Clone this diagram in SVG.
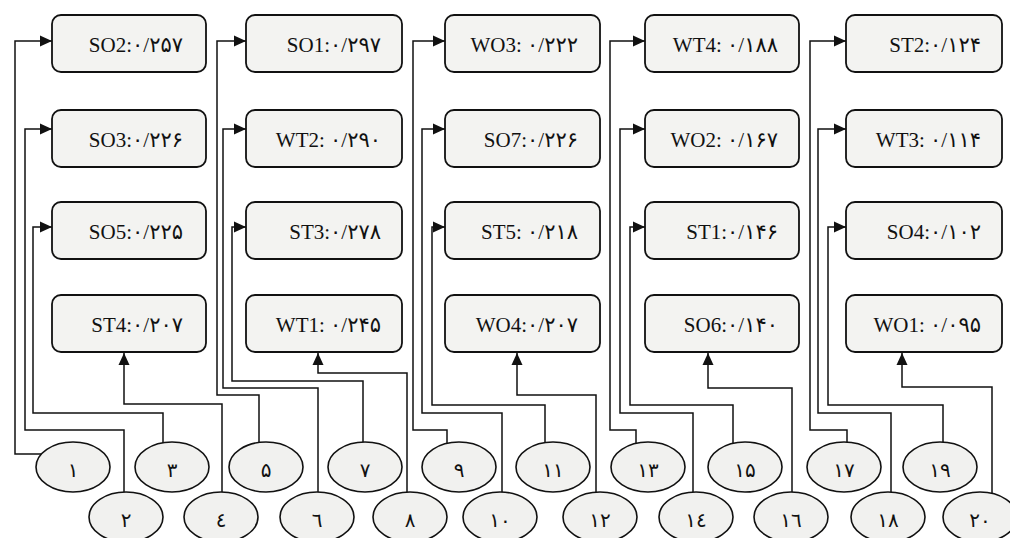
<svg xmlns="http://www.w3.org/2000/svg" width="1010" height="538" viewBox="0 0 1010 538">
<style>
.box{fill:#f3f3f1;stroke:#111;stroke-width:1.8}
.ell{fill:#f1f1ef;stroke:#111;stroke-width:1.6}
.bt{font-family:'Liberation Serif','DejaVu Sans',serif;font-size:21px;fill:#111;text-anchor:end}
.ct{font-family:'DejaVu Sans','Liberation Serif',sans-serif;font-size:20px;fill:#111;text-anchor:middle}
.ln{fill:none;stroke:#111;stroke-width:1.5}
</style>
<defs>
<marker id="ar" markerUnits="userSpaceOnUse" markerWidth="14" markerHeight="12" refX="12" refY="6" orient="auto">
<path d="M0,0.5 L12,6 L0,11.5 Z" fill="#111"/>
</marker>
</defs>
<rect width="1010" height="538" fill="#fff"/>
<g id="connectors">
<path class="ln" marker-end="url(#ar)" d="M41,454 H15 V41 H52"/>
<path class="ln" marker-end="url(#ar)" d="M124,492 V430 H25 V129 H52"/>
<path class="ln" marker-end="url(#ar)" d="M163,443 V413 H33 V227 H52"/>
<path class="ln" marker-end="url(#ar)" d="M222,492 V404 H124 V353"/>
<path class="ln" marker-end="url(#ar)" d="M259,443 V395 H217 V41 H246"/>
<path class="ln" marker-end="url(#ar)" d="M318,492 V388 H223 V129 H246"/>
<path class="ln" marker-end="url(#ar)" d="M363,443 V381 H232 V227 H246"/>
<path class="ln" marker-end="url(#ar)" d="M407,492 V373 H318 V353"/>
<path class="ln" marker-end="url(#ar)" d="M447,443 V430 H413 V41 H445"/>
<path class="ln" marker-end="url(#ar)" d="M502,492 V413 H422 V129 H445"/>
<path class="ln" marker-end="url(#ar)" d="M545,443 V405 H432 V227 H445"/>
<path class="ln" marker-end="url(#ar)" d="M596,492 V395 H517 V353"/>
<path class="ln" marker-end="url(#ar)" d="M636,443 V430 H610 V41 H645"/>
<path class="ln" marker-end="url(#ar)" d="M693,492 V413 H620 V129 H645"/>
<path class="ln" marker-end="url(#ar)" d="M733,443 V405 H630 V227 H645"/>
<path class="ln" marker-end="url(#ar)" d="M792,492 V388 H708 V353"/>
<path class="ln" marker-end="url(#ar)" d="M847,443 V430 H810 V41 H846"/>
<path class="ln" marker-end="url(#ar)" d="M891,492 V413 H818 V129 H846"/>
<path class="ln" marker-end="url(#ar)" d="M943,443 V405 H828 V227 H846"/>
<path class="ln" marker-end="url(#ar)" d="M992,493 V387 H902 V353"/>
</g>
<g id="SO2"><rect class="box" x="52" y="15" width="154" height="57" rx="9"/><text class="bt" x="183" y="52">SO2:۰/۲۵۷</text></g>
<g id="SO3"><rect class="box" x="52" y="110" width="154" height="57" rx="9"/><text class="bt" x="183" y="147">SO3:۰/۲۲۶</text></g>
<g id="SO5"><rect class="box" x="52" y="202" width="154" height="57" rx="9"/><text class="bt" x="183" y="239">SO5:۰/۲۲۵</text></g>
<g id="ST4"><rect class="box" x="52" y="295" width="154" height="57" rx="9"/><text class="bt" x="183" y="332">ST4:۰/۲۰۷</text></g>
<g id="SO1"><rect class="box" x="246" y="15" width="156" height="57" rx="9"/><text class="bt" x="381" y="52">SO1:۰/۲۹۷</text></g>
<g id="WT2"><rect class="box" x="246" y="110" width="156" height="57" rx="9"/><text class="bt" x="381" y="147">WT2: ۰/۲۹۰</text></g>
<g id="ST3"><rect class="box" x="246" y="202" width="156" height="57" rx="9"/><text class="bt" x="381" y="239">ST3:۰/۲۷۸</text></g>
<g id="WT1"><rect class="box" x="246" y="295" width="156" height="57" rx="9"/><text class="bt" x="381" y="332">WT1: ۰/۲۴۵</text></g>
<g id="WO3"><rect class="box" x="445" y="15" width="155" height="57" rx="9"/><text class="bt" x="578" y="52">WO3: ۰/۲۲۲</text></g>
<g id="SO7"><rect class="box" x="445" y="110" width="155" height="57" rx="9"/><text class="bt" x="578" y="147">SO7:۰/۲۲۶</text></g>
<g id="ST5"><rect class="box" x="445" y="202" width="155" height="57" rx="9"/><text class="bt" x="578" y="239">ST5: ۰/۲۱۸</text></g>
<g id="WO4"><rect class="box" x="445" y="295" width="155" height="57" rx="9"/><text class="bt" x="578" y="332">WO4:۰/۲۰۷</text></g>
<g id="WT4"><rect class="box" x="645" y="15" width="154" height="57" rx="9"/><text class="bt" x="778" y="52">WT4: ۰/۱۸۸</text></g>
<g id="WO2"><rect class="box" x="645" y="110" width="154" height="57" rx="9"/><text class="bt" x="778" y="147">WO2: ۰/۱۶۷</text></g>
<g id="ST1"><rect class="box" x="645" y="202" width="154" height="57" rx="9"/><text class="bt" x="778" y="239">ST1:۰/۱۴۶</text></g>
<g id="SO6"><rect class="box" x="645" y="295" width="154" height="57" rx="9"/><text class="bt" x="778" y="332">SO6:۰/۱۴۰</text></g>
<g id="ST2"><rect class="box" x="846" y="15" width="156" height="57" rx="9"/><text class="bt" x="981" y="52">ST2:۰/۱۲۴</text></g>
<g id="WT3"><rect class="box" x="846" y="110" width="156" height="57" rx="9"/><text class="bt" x="981" y="147">WT3: ۰/۱۱۴</text></g>
<g id="SO4"><rect class="box" x="846" y="202" width="156" height="57" rx="9"/><text class="bt" x="981" y="239">SO4:۰/۱۰۲</text></g>
<g id="WO1"><rect class="box" x="846" y="295" width="156" height="57" rx="9"/><text class="bt" x="981" y="332">WO1: ۰/۰۹۵</text></g>
<g id="n1"><ellipse class="ell" cx="73" cy="467" rx="37" ry="25"/><text class="ct" x="73" y="477">۱</text></g>
<g id="n2"><ellipse class="ell" cx="126" cy="517" rx="37" ry="25"/><text class="ct" x="126" y="527">۲</text></g>
<g id="n3"><ellipse class="ell" cx="172" cy="467" rx="37" ry="25"/><text class="ct" x="172" y="477">۳</text></g>
<g id="n4"><ellipse class="ell" cx="221" cy="517" rx="37" ry="25"/><text class="ct" x="221" y="527">٤</text></g>
<g id="n5"><ellipse class="ell" cx="266" cy="467" rx="37" ry="25"/><text class="ct" x="266" y="477">۵</text></g>
<g id="n6"><ellipse class="ell" cx="317" cy="517" rx="37" ry="25"/><text class="ct" x="317" y="527">٦</text></g>
<g id="n7"><ellipse class="ell" cx="365" cy="467" rx="37" ry="25"/><text class="ct" x="365" y="477">۷</text></g>
<g id="n8"><ellipse class="ell" cx="410" cy="517" rx="37" ry="25"/><text class="ct" x="410" y="527">۸</text></g>
<g id="n9"><ellipse class="ell" cx="459" cy="467" rx="37" ry="25"/><text class="ct" x="459" y="477">۹</text></g>
<g id="n10"><ellipse class="ell" cx="500" cy="517" rx="37" ry="25"/><text class="ct" x="500" y="527">۱۰</text></g>
<g id="n11"><ellipse class="ell" cx="553" cy="467" rx="37" ry="25"/><text class="ct" x="553" y="477">۱۱</text></g>
<g id="n12"><ellipse class="ell" cx="600" cy="517" rx="37" ry="25"/><text class="ct" x="600" y="527">۱۲</text></g>
<g id="n13"><ellipse class="ell" cx="648" cy="467" rx="37" ry="25"/><text class="ct" x="648" y="477">۱۳</text></g>
<g id="n14"><ellipse class="ell" cx="696" cy="517" rx="37" ry="25"/><text class="ct" x="696" y="527">۱٤</text></g>
<g id="n15"><ellipse class="ell" cx="745" cy="467" rx="37" ry="25"/><text class="ct" x="745" y="477">۱۵</text></g>
<g id="n16"><ellipse class="ell" cx="791" cy="517" rx="37" ry="25"/><text class="ct" x="791" y="527">۱٦</text></g>
<g id="n17"><ellipse class="ell" cx="844" cy="467" rx="37" ry="25"/><text class="ct" x="844" y="477">۱۷</text></g>
<g id="n18"><ellipse class="ell" cx="888" cy="517" rx="37" ry="25"/><text class="ct" x="888" y="527">۱۸</text></g>
<g id="n19"><ellipse class="ell" cx="940" cy="467" rx="37" ry="25"/><text class="ct" x="940" y="477">۱۹</text></g>
<g id="n20"><ellipse class="ell" cx="980" cy="517" rx="37" ry="25"/><text class="ct" x="980" y="527">۲۰</text></g>
</svg>
